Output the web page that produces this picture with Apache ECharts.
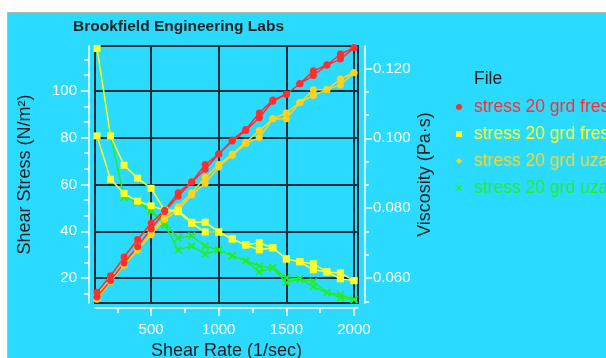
<!DOCTYPE html>
<html>
<head>
<meta charset="utf-8">
<script src="https://cdn.jsdelivr.net/npm/echarts@6/dist/echarts.min.js"></script>
<style>
html,body{margin:0;padding:0;background:#ffffff;width:606px;height:358px;overflow:hidden;}
#bg{position:absolute;left:7px;top:12px;width:599px;height:346px;background:#2bdbff;border-left:1px solid #b9b9aa;border-top:1px solid #b9b9aa;}
#chart{position:absolute;left:0;top:0;width:606px;height:358px;}
</style>
</head>
<body>
<div id="bg"></div>
<div id="chart"></div>
<script>
// Shear rate (1/sec) steps, used for both ascending and descending sweeps
const shearRates = [100,200,300,400,500,600,700,800,900,1000,1100,1200,1300,1400,1500,1600,1700,1800,1900,2000];

// stress 20 grd fresh - Shear Stress (N/m2): ascending / descending (listed by rate)
const freshStressUp   = [12,19,26.5,33.5,41,48.5,55,61,66.5,73,78.5,83,88.5,95.5,98.5,103,106.5,111,113.5,118.3];
const freshStressDown = [14,21,29,36.5,43.5,49,56.5,61,68.5,73,79,83.5,90.5,96,98.5,103,108.5,111,115.7,118.3];

// stress 20 grd fresh - Viscosity (Pa.s)
const freshViscUp   = [0.1257,0.1007,0.0923,0.0886,0.0857,0.0794,0.0794,0.0760,0.0760,0.0732,0.0712,0.0695,0.0701,0.0687,0.0655,0.0647,0.0641,0.0618,0.0615,0.0593];
const freshViscDown = [0.1007,0.0883,0.0842,0.0820,0.0807,0.0794,0.0790,0.0757,0.0732,0.0732,0.0712,0.0695,0.0681,0.0687,0.0655,0.0647,0.0624,0.0618,0.0598,0.0593];

// stress 20 grd uzav - Shear Stress (N/m2)
const uzavStressUp   = [11,18.5,25.5,32,38.5,45,49,55.5,60.5,67.5,72.5,77.5,80,88,88,95,98,100.5,102.5,107.7];
const uzavStressDown = [13,19.5,26.5,33.5,39.5,46,50.5,56.5,63,68.5,73,78,83,88,90.5,95,100.4,100.5,105,107.7];

// stress 20 grd uzav - Viscosity (Pa.s)
const uzavViscUp   = [0.1257,0.1007,0.0831,0.0817,0.0794,0.0757,0.0715,0.0721,0.0692,0.0681,0.0664,0.0650,0.0635,0.0630,0.0601,0.0598,0.0590,0.0559,0.0553,0.0539];
const uzavViscDown = [0.1257,0.1007,0.0831,0.0817,0.0790,0.0752,0.0681,0.0692,0.0669,0.0681,0.0664,0.0650,0.0618,0.0630,0.0587,0.0598,0.0576,0.0559,0.0544,0.0539];

// tick values
const xMajorTicks = [500,1000,1500,2000];
const xMinorTicks = [250,750,1250,1750];
const yLeftMajor = [20,40,60,80,100];
const yLeftMinor = [13.333,26.667,33.333,46.667,53.333,66.667,73.333,86.667,93.333,106.667,113.333];
const yRightMajor = [0.06,0.08,0.10,0.12];
const yRightMinor = [0.05333,0.06667,0.07333,0.08667,0.09333,0.10667,0.11333];

const names = {
  fs: 'stress 20 grd fresh - Shear Stress',
  fv: 'stress 20 grd fresh - Viscosity',
  us: 'stress 20 grd uzav - Shear Stress',
  uv: 'stress 20 grd uzav - Viscosity'
};
const colors = {fs:'#ff2e2e', fv:'#ffff2a', us:'#ffd21c', uv:'#22ee22'};

function loop(up, down){
  const d = shearRates.map((x,i)=>[x, up[i]]);
  for (let i = shearRates.length-1; i >= 0; i--) d.push([shearRates[i], down[i]]);
  return d;
}

const FONT = '"Liberation Sans", Arial, sans-serif';
const GRIDC = '#1b3036';
const crossPath = 'path://M0,1.5L1.5,0L5,3.5L8.5,0L10,1.5L6.5,5L10,8.5L8.5,10L5,6.5L1.5,10L0,8.5L3.5,5Z';

const chart = echarts.init(document.getElementById('chart'), null, {renderer:'canvas'});
chart.setOption({
  animation:false,
  backgroundColor:'transparent',
  textStyle:{fontFamily:FONT},
  title:[
    {text:'Brookfield Engineering Labs', left:73, top:19, padding:0, textStyle:{fontFamily:FONT, fontSize:15.5, fontWeight:'bold', color:'#222'}},
    {text:'File', left:474, top:70, padding:0, textStyle:{fontFamily:FONT, fontSize:17.5, fontWeight:'normal', color:'#222'}}
  ],
  legend:{
    orient:'vertical', left:456, top:97, padding:0, itemWidth:6, itemHeight:6, itemGap:7,
    selectedMode:false,
    textStyle:{fontFamily:FONT, fontSize:17.5, lineHeight:20, padding:[0,0,0,7]},
    data:[
      {name:names.fs, icon:'circle', textStyle:{color:colors.fs}},
      {name:names.fv, icon:'rect', textStyle:{color:colors.fv}},
      {name:names.us, icon:'diamond', textStyle:{color:colors.us}},
      {name:names.uv, icon:crossPath, textStyle:{color:colors.uv}}
    ]
  },
  grid:{left:95, top:46, right:248, bottom:55, show:true, borderColor:GRIDC, borderWidth:2, backgroundColor:'transparent', containLabel:false, outerBoundsMode:'none'},
  xAxis:[
    {type:'value', min:85, max:2030, splitNumber:4, offset:5, position:'bottom',
     name:'Shear Rate (1/sec)', nameLocation:'middle', nameGap:34,
     nameTextStyle:{fontFamily:FONT, fontSize:18, color:'#222'},
     axisLine:{show:true, onZero:false, lineStyle:{color:'#fff', width:1.5}},
     axisTick:{show:true, customValues:xMajorTicks, length:8, lineStyle:{color:'#fff', width:1.5}},
     axisLabel:{customValues:xMajorTicks, color:'#fff', fontSize:15, margin:14, fontFamily:FONT, formatter:v=>String(v)},
     splitLine:{show:true, lineStyle:{color:GRIDC, width:2}}},
    {type:'value', min:85, max:2030, offset:5, position:'bottom',
     axisLine:{show:false, onZero:false},
     axisTick:{show:true, customValues:xMinorTicks, length:5, lineStyle:{color:'#fff', width:1.5}},
     axisLabel:{show:false}, splitLine:{show:false}}
  ],
  yAxis:[
    {type:'value', min:9.4, max:119.1, splitNumber:5, position:'left', offset:6,
     name:'Shear Stress (N/m²)', nameLocation:'middle', nameGap:55, nameRotate:90,
     nameTextStyle:{fontFamily:FONT, fontSize:18, color:'#222'},
     axisLine:{show:true, lineStyle:{color:'#fff', width:1.5}},
     axisTick:{show:true, customValues:yLeftMajor, length:8, lineStyle:{color:'#fff', width:1.5}},
     axisLabel:{customValues:yLeftMajor, color:'#fff', fontSize:15, margin:12, fontFamily:FONT},
     splitLine:{show:true, lineStyle:{color:GRIDC, width:2}}},
    {type:'value', min:0.0529, max:0.1264, splitNumber:4, position:'right', offset:7,
     name:'Viscosity (Pa·s)', nameLocation:'middle', nameGap:51, nameRotate:90,
     nameTextStyle:{fontFamily:FONT, fontSize:18, color:'#222'},
     axisLine:{show:true, lineStyle:{color:'#fff', width:1.5}},
     axisTick:{show:true, customValues:yRightMajor, length:7, lineStyle:{color:'#fff', width:1.5}},
     axisLabel:{customValues:yRightMajor, color:'#fff', fontSize:15, margin:8, fontFamily:FONT, formatter:v=>v.toFixed(3)},
     splitLine:{show:false}},
    {type:'value', min:9.4, max:119.1, position:'left', offset:6,
     axisLine:{show:false}, axisTick:{show:true, customValues:yLeftMinor, length:5, lineStyle:{color:'#fff', width:1.5}},
     axisLabel:{show:false}, splitLine:{show:false}},
    {type:'value', min:0.0529, max:0.1264, position:'right', offset:7,
     axisLine:{show:false}, axisTick:{show:true, customValues:yRightMinor, length:4, lineStyle:{color:'#fff', width:1.5}},
     axisLabel:{show:false}, splitLine:{show:false}}
  ],
  series:[
    {name:names.uv, type:'line', yAxisIndex:1, data:loop(uzavViscUp, uzavViscDown),
     symbol:crossPath, symbolSize:8, lineStyle:{color:colors.uv, width:1.5}, itemStyle:{color:colors.uv}},
    {name:names.us, type:'line', yAxisIndex:0, data:loop(uzavStressUp, uzavStressDown),
     symbol:'circle', symbolSize:7, lineStyle:{color:colors.us, width:1.5}, itemStyle:{color:colors.us}},
    {name:names.fv, type:'line', yAxisIndex:1, data:loop(freshViscUp, freshViscDown),
     symbol:'rect', symbolSize:7, lineStyle:{color:colors.fv, width:1.5}, itemStyle:{color:colors.fv}},
    {name:names.fs, type:'line', yAxisIndex:0, data:loop(freshStressUp, freshStressDown),
     symbol:'circle', symbolSize:7, lineStyle:{color:colors.fs, width:1.5}, itemStyle:{color:colors.fs}}
  ]
});
</script>
</body>
</html>
